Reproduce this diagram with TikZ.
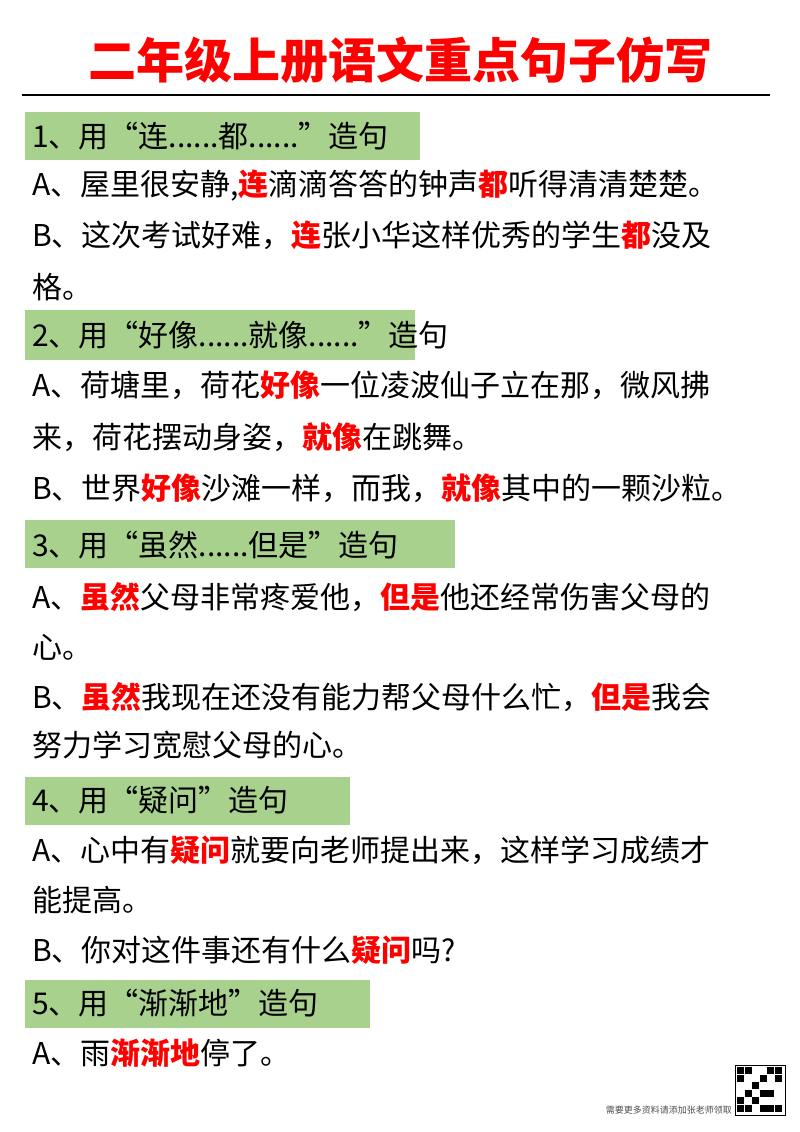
\documentclass[tikz,border=0pt]{standalone}
\usepackage{fontspec}
\setmainfont{Noto Sans CJK SC}
\newfontfamily\cjk{Noto Sans CJK SC}
\definecolor{hg}{HTML}{A9D18E}
\definecolor{tred}{HTML}{FF0000}
\newcommand{\R}[1]{\textcolor{tred}{\bfseries #1}}
\begin{document}
\begin{tikzpicture}[x=1pt,y=-1pt,
  ln/.style={anchor=west,inner sep=0pt,font=\fontsize{30}{30}\selectfont},
  hd/.style={fill=hg,anchor=north west,inner sep=0pt},
  hdt/.style={anchor=west,inner sep=0pt,font=\fontsize{30}{30}\selectfont}]
\useasboundingbox (0,0) rectangle (800,1132);
\node[font=\fontsize{48}{48}\selectfont\bfseries,text=tred] (title) at (400,60) {二年级上册语文重点句子仿写};
\draw[line width=1.5pt] (22,95) coordinate (l1) -- (770,95) coordinate (l2);
% headings
\fill[hg] (25,112) rectangle (420,160);
\fill[hg] (25,310) rectangle (415,360);
\fill[hg] (25,520) rectangle (455,568);
\fill[hg] (25,777) rectangle (350,825);
\fill[hg] (25,980) rectangle (370,1028);
\node[hdt] (h1) at (32,136) {1、用“连......都......”造句};
\node[ln] (a1) at (32,185) {A、屋里很安静,\R{连}滴滴答答的钟声\R{都}听得清清楚楚。};
\node[ln] (b1) at (32,235) {B、这次考试好难，\R{连}张小华这样优秀的学生\R{都}没及};
\node[ln] (b1b) at (32,287) {格。};
\node[hdt] (h2) at (32,335) {2、用“好像......就像......”造句};
\node[ln] (a2) at (32,385) {A、荷塘里，荷花\R{好像}一位凌波仙子立在那，微风拂};
\node[ln] (a2b) at (32,437) {来，荷花摆动身姿，\R{就像}在跳舞。};
\node[ln] (b2) at (32,488) {B、世界\R{好像}沙滩一样，而我，\R{就像}其中的一颗沙粒。};
\node[hdt] (h3) at (32,545) {3、用“虽然......但是”造句};
\node[ln] (a3) at (32,597) {A、\R{虽然}父母非常疼爱他，\R{但是}他还经常伤害父母的};
\node[ln] (a3b) at (32,647) {心。};
\node[ln] (b3) at (32,697) {B、\R{虽然}我现在还没有能力帮父母什么忙，\R{但是}我会};
\node[ln] (b3b) at (32,745) {努力学习宽慰父母的心。};
\node[hdt] (h4) at (32,800) {4、用“疑问”造句};
\node[ln] (a4) at (32,850) {A、心中有\R{疑问}就要向老师提出来，这样学习成绩才};
\node[ln] (a4b) at (32,900) {能提高。};
\node[ln] (b4) at (32,950) {B、你对这件事还有什么\R{疑问}吗?};
\node[hdt] (h5) at (32,1003) {5、用“渐渐地”造句};
\node[ln] (a5) at (32,1053) {A、雨\R{渐渐地}停了。};
\node[anchor=east,inner sep=0pt,font=\fontsize{9}{9}\selectfont,text=black!70] (note) at (732,1110) {需要更多资料请添加张老师领取};
\draw[fill=white] (735,1065) rectangle (785,1115);
\foreach \i/\j in {0/0,1/0,0/1,4/0,5/0,5/1,0/4,0/5,1/5,2/2,3/3,2/4,4/3,5/5,3/1,1/3,4/5,3/5}
  \fill (737+\i*7.5,1067+\j*7.5) rectangle ++(7,7);
\end{tikzpicture}
\end{document}
